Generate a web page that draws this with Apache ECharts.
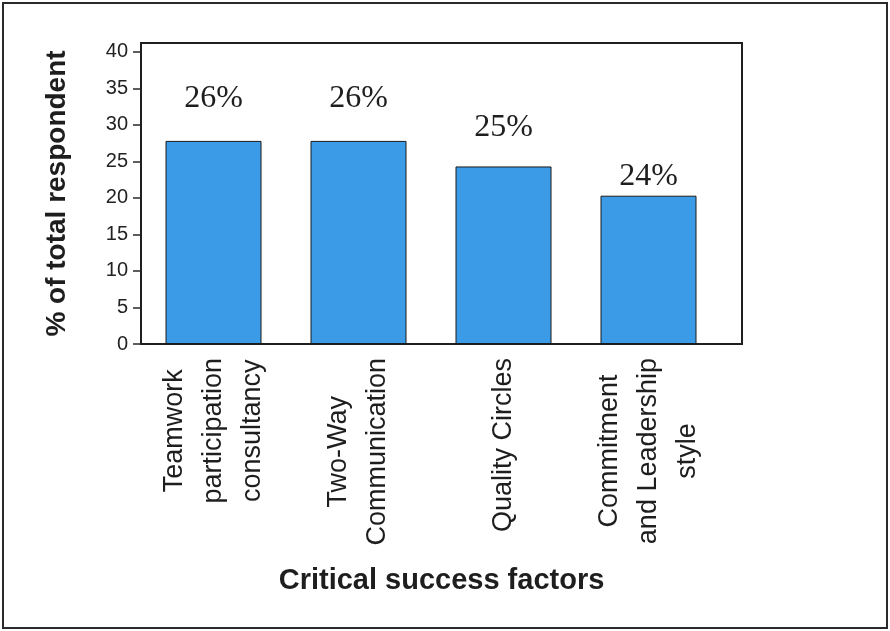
<!DOCTYPE html>
<html>
<head>
<meta charset="utf-8">
<script src="https://cdn.jsdelivr.net/npm/echarts@6/dist/echarts.min.js"></script>
<style>
  html, body { margin: 0; padding: 0; background: #ffffff; }
  #chart { position: absolute; left: 0; top: 0; width: 890px; height: 631px; }
  #frame { position: absolute; left: 2px; top: 2px; width: 882px; height: 623px;
           border: 2px solid #2a2a2a; pointer-events: none; }
</style>
</head>
<body>
<div id="chart"></div>
<div id="frame"></div>
<script>
// ---- data ----
const categories = [
  'Teamwork\nparticipation\nconsultancy',
  'Two-Way\nCommunication',
  'Quality Circles',
  'Commitment\nand Leadership\nstyle'
];
const values = [27.8, 27.8, 24.3, 20.3];
const valueLabels = ['26%', '26%', '25%', '24%'];
const yTicks = [0, 5, 10, 15, 20, 25, 30, 35, 40];
const yAxisTitle = '% of total respondent';
const xAxisTitle = 'Critical success factors';

// ---- style (not data) ----
const labelGaps = [26, 26, 23, 3];
const sans = '"Liberation Sans", Arial, Helvetica, sans-serif';
const serif = '"Liberation Serif", "Times New Roman", serif';

const chart = echarts.init(document.getElementById('chart'));

const seriesData = values.map((v, i) => ({
  value: v,
  label: { distance: labelGaps[i] }
}));

chart.setOption({
  animation: false,
  backgroundColor: '#ffffff',
  grid: [
    { left: 141, top: 43, width: 580, height: 301, show: false, containLabel: false },
    { left: 141, top: 43, width: 601, height: 301, show: true, borderColor: '#1f1f1f', borderWidth: 2, backgroundColor: 'transparent', containLabel: false }
  ],
  xAxis: [
    {
      gridIndex: 0,
      type: 'category',
      data: categories,
      axisLine: { show: false },
      axisTick: { show: false },
      axisLabel: {
        rotate: 90,
        margin: 14,
        interval: 0,
        formatter: (v) => v.split('\n').map(s => '{c|' + s + '}').join('\n'),
        rich: {
          c: { align: 'center', fontSize: 27, lineHeight: 39, fontFamily: sans, color: '#1e1e1e' }
        }
      }
    },
    {
      gridIndex: 1,
      type: 'value',
      min: 0, max: 1,
      axisLine: { show: false },
      axisTick: { show: false },
      axisLabel: { show: false },
      splitLine: { show: false },
      name: xAxisTitle,
      nameLocation: 'middle',
      nameGap: 222,
      nameTextStyle: { fontSize: 29, fontWeight: 'bold', fontFamily: sans, color: '#1e1e1e' }
    }
  ],
  yAxis: [
    {
      gridIndex: 0,
      type: 'value',
      min: 0,
      max: 41.2,
      axisLine: { show: false },
      axisTick: { show: true, inside: false, length: 8, lineStyle: { color: '#2a2a2a', width: 1.5 }, customValues: yTicks },
      axisLabel: { margin: 13, fontSize: 20, fontFamily: sans, color: '#222', customValues: yTicks },
      splitLine: { show: false },
      name: yAxisTitle,
      nameLocation: 'middle',
      nameGap: 70,
      nameTextStyle: { fontSize: 28, fontWeight: 'bold', fontFamily: sans, color: '#1e1e1e' }
    },
    {
      gridIndex: 1,
      type: 'value',
      min: 0, max: 1,
      show: false
    }
  ],
  series: [
    {
      type: 'bar',
      xAxisIndex: 0,
      yAxisIndex: 0,
      data: seriesData,
      barWidth: 96,
      itemStyle: { color: '#3b9be6', borderColor: '#1a1a1a', borderWidth: 1 },
      label: {
        show: true,
        position: 'top',
        formatter: (p) => valueLabels[p.dataIndex],
        fontFamily: serif,
        fontSize: 32,
        color: '#1e1e1e'
      }
    }
  ]
});
</script>
</body>
</html>
